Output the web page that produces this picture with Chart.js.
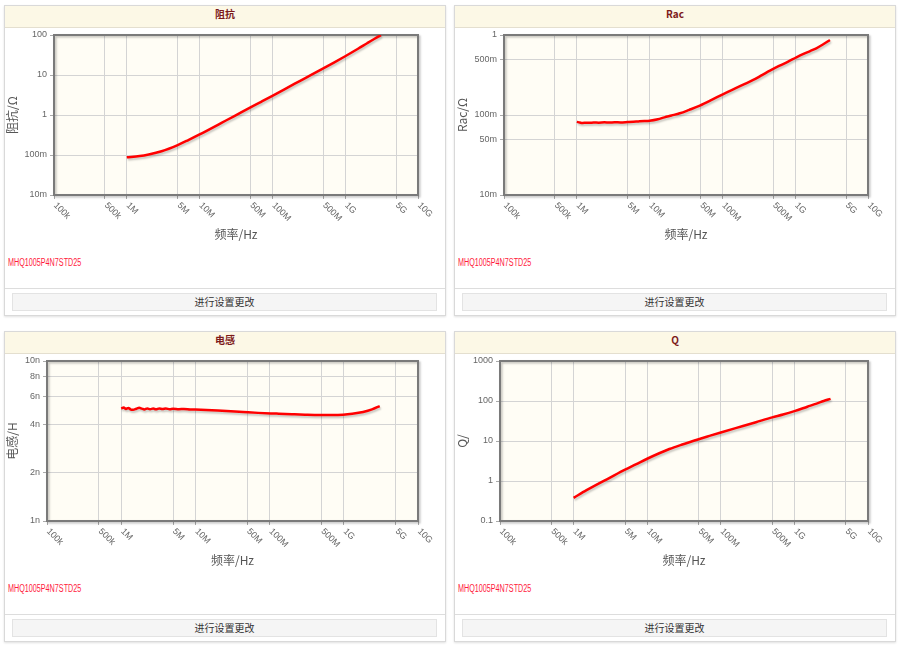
<!DOCTYPE html>
<html>
<head>
<meta charset="utf-8">
<script src="https://cdn.jsdelivr.net/npm/chart.js@4.4.1/dist/chart.umd.min.js"></script>
<style>
  body { margin: 0; background: #fff; }
  .panel { position: absolute; width: 442px; height: 311px; box-sizing: border-box;
           border: 1px solid #d9d9d9; background: #fff; box-shadow: 0 1px 2px rgba(0,0,0,.12); }
  .hd { height: 21px; line-height: 25px; overflow: hidden; border-bottom: 1px solid #e4dfcf; background: #fcf8e6;
        text-align: center; font: bold 10px "Noto Sans CJK SC", sans-serif; color: #7d1a1a; }
  .cv { position: absolute; left: 0; top: 22px; width: 440px; height: 222px; }
  .pn { position: absolute; left: 3px; top: 251px; font: 10px "Liberation Sans", sans-serif;
        color: #ff1a3c; transform: scaleX(0.72); transform-origin: 0 0; }
  .ft { position: absolute; left: 0; top: 282px; width: 440px; height: 27px; border-top: 1px solid #ddd; }
  .btn { position: absolute; left: 7px; top: 4px; width: 425px; height: 18px; box-sizing: border-box;
         border: 1px solid #e3e3e3; background: #f5f5f5; text-align: center; line-height: 16px;
         font: 10px "Noto Sans CJK SC", sans-serif; color: #333; }
</style>
</head>
<body>

<div class="panel" style="left:4px;top:5px">
  <div class="hd">阻抗</div>
  <div class="cv"><canvas id="cZ" width="440" height="222"></canvas></div>
  <div class="pn">MHQ1005P4N7STD25</div>
  <div class="ft"><div class="btn">进行设置更改</div></div>
</div>
<div class="panel" style="left:454px;top:5px">
  <div class="hd">Rac</div>
  <div class="cv"><canvas id="cR" width="440" height="222"></canvas></div>
  <div class="pn">MHQ1005P4N7STD25</div>
  <div class="ft"><div class="btn">进行设置更改</div></div>
</div>
<div class="panel" style="left:4px;top:331px">
  <div class="hd">电感</div>
  <div class="cv"><canvas id="cL" width="440" height="222"></canvas></div>
  <div class="pn">MHQ1005P4N7STD25</div>
  <div class="ft"><div class="btn">进行设置更改</div></div>
</div>
<div class="panel" style="left:454px;top:331px">
  <div class="hd">Q</div>
  <div class="cv"><canvas id="cQ" width="440" height="222"></canvas></div>
  <div class="pn">MHQ1005P4N7STD25</div>
  <div class="ft"><div class="btn">进行设置更改</div></div>
</div>

<script>
// x axis (frequency, Hz)
const xTickVals = [1e5, 5e5, 1e6, 5e6, 1e7, 5e7, 1e8, 5e8, 1e9, 5e9, 1e10];
const xTickLabels = ["100k", "500k", "1M", "5M", "10M", "50M", "100M", "500M", "1G", "5G", "10G"];

// impedance |Z| (ohm) and Q share one frequency list
const freqSmooth = [1e6, 1.5e6, 2e6, 3e6, 5e6, 7e6, 1e7, 2e7, 3e7, 5e7, 7e7, 1e8, 2e8, 3e8, 5e8, 7e8, 1e9, 1.5e9, 2e9, 2.5e9, 3.1e9];
const impedance = [0.088, 0.094, 0.103, 0.124, 0.177, 0.236, 0.326, 0.636, 0.94, 1.55, 2.14, 3.02, 5.97, 8.86, 14.6, 20.4, 29.4, 45.2, 62.2, 79.3, 99];
const qValues = [0.38, 0.59, 0.79, 1.17, 1.92, 2.6, 3.6, 6.3, 8.2, 11.1, 13.4, 16.3, 23.7, 29.5, 39, 46, 56, 72, 86, 100, 113];

// Rac (ohm)
const racFreq = [1e6, 1.1e6, 1.2e6, 1.35e6, 1.5e6, 1.7e6, 2e6, 2.4e6, 2.8e6, 3.3e6, 4e6, 5e6, 6e6, 7e6, 8.5e6, 1e7, 1.3e7, 1.6e7, 2e7, 2.6e7, 3.5e7, 4.9e7, 7e7, 1.03e8, 1.5e8, 2e8, 2.65e8, 3.5e8, 4.5e8, 6e8, 8e8, 1.04e9, 1.3e9, 1.6e9, 1.95e9, 2.4e9, 3e9];
const racValues = [0.082, 0.0805, 0.0795, 0.080, 0.0798, 0.0806, 0.0802, 0.0809, 0.0804, 0.081, 0.0808, 0.0818, 0.0826, 0.0832, 0.0840, 0.0848, 0.0885, 0.0935, 0.0985, 0.105, 0.116, 0.131, 0.153, 0.183, 0.215, 0.243, 0.274, 0.315, 0.358, 0.410, 0.465, 0.526, 0.580, 0.630, 0.682, 0.760, 0.866];

// inductance (nH)
const indFreq = [1e6, 1.08e6, 1.16e6, 1.25e6, 1.35e6, 1.45e6, 1.6e6, 1.75e6, 1.9e6, 2.05e6, 2.25e6, 2.45e6, 2.7e6, 2.95e6, 3.25e6, 3.6e6, 4e6, 4.5e6, 5e6, 6e6, 7e6, 8.5e6, 1e7, 1.4e7, 2e7, 3e7, 4.4e7, 7e7, 1.24e8, 2e8, 3e8, 4.74e8, 7e8, 9.77e8, 1.3e9, 1.82e9, 2.4e9, 3.05e9];
const indValues = [5.05, 5.12, 5.02, 5.09, 4.97, 4.95, 5.03, 5.10, 5.04, 4.98, 5.05, 5.00, 5.04, 4.99, 5.05, 5.01, 5.04, 5.00, 5.03, 5.00, 5.01, 4.98, 4.97, 4.94, 4.90, 4.85, 4.80, 4.74, 4.69, 4.65, 4.62, 4.60, 4.60, 4.62, 4.68, 4.80, 4.98, 5.23];

// y axis ticks
const zTicks = [0.01, 0.1, 1, 10, 100];
const zTickLabels = ["10m", "100m", "1", "10", "100"];
const racTicks = [0.01, 0.05, 0.1, 0.5, 1];
const racTickLabels = ["10m", "50m", "100m", "500m", "1"];
const indTicks = [1, 2, 4, 6, 8, 10];
const indTickLabels = ["1n", "2n", "4n", "6n", "8n", "10n"];
const qTicks = [0.1, 1, 10, 100, 1000];
const qTickLabels = ["0.1", "1", "10", "100", "1000"];

const TICK_FONT = '"Liberation Sans", sans-serif';
const CJK_FONT = '"Noto Sans CJK SC", sans-serif';

// plot background, frame, line shadow and rotated x labels
const framePlugin = {
  id: "frame",
  beforeDraw(chart) {
    const { ctx, chartArea: a } = chart;
    ctx.save();
    ctx.fillStyle = "#fffdf5";
    ctx.fillRect(a.left, a.top, a.width, a.height);
    ctx.restore();
  },
  beforeDatasetsDraw(chart) {
    const { ctx, chartArea: a } = chart;
    ctx.save();
    ctx.shadowColor = "rgba(0,0,0,0.25)";
    ctx.shadowOffsetX = 1.5;
    ctx.shadowOffsetY = 1.5;
    ctx.shadowBlur = 2;
    ctx.strokeStyle = "#7a7a7a";
    ctx.lineWidth = 2;
    ctx.strokeRect(a.left, a.top, a.width, a.height);
    ctx.restore();

    ctx.save();
    ctx.shadowColor = "rgba(0,0,0,0.22)";
    ctx.shadowOffsetX = 1;
    ctx.shadowOffsetY = 2;
    ctx.shadowBlur = 2;
  },
  afterDatasetsDraw(chart) {
    chart.ctx.restore();
  },
  afterDraw(chart) {
    const { ctx, chartArea: a } = chart;
    const xs = chart.scales.x;
    ctx.save();
    ctx.font = "9px " + TICK_FONT;
    ctx.fillStyle = "#666";
    ctx.textAlign = "left";
    ctx.textBaseline = "middle";
    xTickVals.forEach((v, i) => {
      const px = xs.getPixelForValue(v);
      ctx.save();
      ctx.translate(px + 1, a.bottom + 9);
      ctx.rotate(Math.PI / 4);
      ctx.fillText(xTickLabels[i], 0, 0);
      ctx.restore();
    });
    ctx.restore();
  }
};

function makeChart(id, opt) {
  new Chart(document.getElementById(id), {
    type: "line",
    data: {
      datasets: [{
        data: opt.freq.map((f, i) => ({ x: f, y: opt.values[i] })),
        borderColor: "#ff0000",
        borderWidth: 2.5,
        pointRadius: 0,
        cubicInterpolationMode: "monotone",
        fill: false
      }]
    },
    options: {
      responsive: false,
      animation: false,
      layout: { autoPadding: false, padding: { top: 7, right: 27, left: 0, bottom: 0 } },
      plugins: { legend: { display: false }, tooltip: { enabled: false } },
      scales: {
        x: {
          type: "logarithmic",
          min: 1e5,
          max: 1e10,
          afterBuildTicks: (s) => { s.ticks = xTickVals.map((v) => ({ value: v })); },
          afterFit: (s) => { s.height = 55; },
          ticks: { display: false },
          grid: { color: "#d4d4d4", tickColor: "#aaa", tickLength: 4 },
          border: { display: false },
          title: { display: true, text: "频率/Hz", color: "#555", font: { size: 12, family: CJK_FONT }, padding: { top: 0, bottom: 8 } }
        },
        y: {
          type: "logarithmic",
          min: opt.ticks[0],
          max: opt.ticks[opt.ticks.length - 1],
          afterBuildTicks: (s) => { s.ticks = opt.ticks.map((v) => ({ value: v })); },
          afterFit: (s) => { s.width = opt.yWidth; },
          ticks: {
            autoSkip: false,
            color: "#666",
            padding: 3,
            font: { size: 9, lineHeight: 0.8, family: TICK_FONT },
            callback: (v, i) => opt.tickLabels[i]
          },
          grid: { color: "#d4d4d4", tickColor: "#aaa", tickLength: 4 },
          border: { display: false },
          title: { display: true, text: opt.yTitle, color: "#555", font: { size: 12, family: CJK_FONT }, padding: 0 }
        }
      }
    },
    plugins: [framePlugin]
  });
}

makeChart("cZ", { freq: freqSmooth, values: impedance, ticks: zTicks, tickLabels: zTickLabels, yTitle: "阻抗/Ω", yWidth: 49 });
makeChart("cR", { freq: racFreq, values: racValues, ticks: racTicks, tickLabels: racTickLabels, yTitle: "Rac/Ω", yWidth: 49 });
makeChart("cL", { freq: indFreq, values: indValues, ticks: indTicks, tickLabels: indTickLabels, yTitle: "电感/H", yWidth: 42 });
makeChart("cQ", { freq: freqSmooth, values: qValues, ticks: qTicks, tickLabels: qTickLabels, yTitle: "Q/", yWidth: 45 });
</script>
</body>
</html>
